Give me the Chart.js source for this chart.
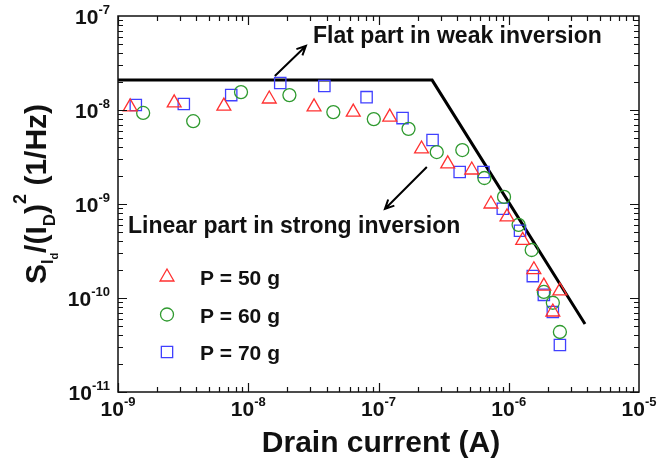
<!DOCTYPE html>
<html>
<head>
<meta charset="utf-8">
<script src="https://cdn.jsdelivr.net/npm/chart.js@4/dist/chart.umd.min.js"></script>
<style>
  html, body { margin: 0; background: #fff; }
</style>
</head>
<body>
<canvas id="noiseChart" width="657" height="461"></canvas>
<script>
// drain current (A) and normalized noise for each pressure
const p50X = [1.24e-9, 2.7e-9, 6.5e-9, 1.45e-8, 3.2e-8, 6.4e-8, 1.22e-7, 2.14e-7, 3.4e-7, 5.2e-7, 7.3e-7, 9.7e-7, 1.28e-6, 1.56e-6, 1.86e-6, 2.18e-6, 2.47e-6];
const p50Y = [1.08e-8, 1.19e-8, 1.10e-8, 1.31e-8, 1.08e-8, 9.5e-9, 8.4e-9, 3.85e-9, 2.67e-9, 2.3e-9, 1.0e-9, 7.3e-10, 4.1e-10, 2.0e-10, 1.34e-10, 7.1e-11, 1.19e-10];

const p60X = [1.56e-9, 3.78e-9, 8.8e-9, 2.07e-8, 4.5e-8, 9.2e-8, 1.70e-7, 2.8e-7, 4.4e-7, 6.5e-7, 9.2e-7, 1.19e-6, 1.50e-6, 1.86e-6, 2.18e-6, 2.47e-6];
const p60Y = [9.3e-9, 7.6e-9, 1.55e-8, 1.44e-8, 9.5e-9, 8.0e-9, 6.3e-9, 3.57e-9, 3.75e-9, 1.89e-9, 1.19e-9, 6.0e-10, 3.24e-10, 1.16e-10, 8.9e-11, 4.35e-11];

const p70X = [1.37e-9, 3.2e-9, 7.4e-9, 1.76e-8, 3.84e-8, 8.1e-8, 1.53e-7, 2.6e-7, 4.2e-7, 6.4e-7, 9.0e-7, 1.22e-6, 1.53e-6, 1.86e-6, 2.18e-6, 2.47e-6];
const p70Y = [1.13e-8, 1.16e-8, 1.44e-8, 1.94e-8, 1.80e-8, 1.37e-8, 8.2e-9, 4.8e-9, 2.19e-9, 2.19e-9, 8.9e-10, 5.2e-10, 1.71e-10, 1.08e-10, 7.1e-11, 3.16e-11];

// guide line: flat part then slope
const fitX = [1e-9, 2.58e-7, 3.85e-6];
const fitY = [2.08e-8, 2.08e-8, 5.29e-11];

const seriesLabels = ["P = 50 g", "P = 60 g", "P = 70 g"];
const xTickExps = [-9, -8, -7, -6, -5];
const yTickExps = [-11, -10, -9, -8, -7];

const FONT = '"Liberation Sans", Arial, sans-serif';
const red = "#ff3030", green = "#2f9a2f", blue = "#4040ff";

const toPts = (xs, ys) => xs.map((v, i) => ({x: v, y: ys[i]}));

// arrows are anchored in data space
const arrows = [
    {from: [1.6e-8, 2.3e-8], to: [2.77e-8, 4.8e-8]},
    {from: [2.35e-7, 2.48e-9], to: [1.12e-7, 8.85e-10]}
];

function drawPow(ctx, exp, x, y, align, size, expSize, rise) {
    ctx.font = "bold " + size + "px " + FONT;
    const w1 = ctx.measureText("10").width;
    ctx.font = "bold " + expSize + "px " + FONT;
    const w2 = ctx.measureText(String(exp)).width;
    let start = x;
    if (align === "center") start = x - (w1 + w2) / 2;
    if (align === "right") start = x - w1 - w2;
    ctx.textAlign = "left";
    ctx.textBaseline = "alphabetic";
    ctx.font = "bold " + size + "px " + FONT;
    ctx.fillText("10", start, y);
    ctx.font = "bold " + expSize + "px " + FONT;
    ctx.fillText(String(exp), start + w1, y - rise);
}

function drawArrow(ctx, x1, y1, x2, y2) {
    const ang = Math.atan2(y2 - y1, x2 - x1);
    const h = 10;
    ctx.beginPath();
    ctx.moveTo(x1, y1);
    ctx.lineTo(x2, y2);
    ctx.moveTo(x2 - h * Math.cos(ang - 0.45), y2 - h * Math.sin(ang - 0.45));
    ctx.lineTo(x2, y2);
    ctx.lineTo(x2 - h * Math.cos(ang + 0.45), y2 - h * Math.sin(ang + 0.45));
    ctx.stroke();
}

const framePlugin = {
    id: "frame",
    afterDraw(chart) {
        const {ctx, chartArea: a, scales: {x, y}} = chart;
        ctx.save();
        ctx.strokeStyle = "#111";
        ctx.fillStyle = "#111";
        ctx.lineWidth = 1.5;
        ctx.strokeRect(a.left, a.top, a.right - a.left, a.bottom - a.top);

        // inward ticks on all four sides
        ctx.lineWidth = 1.2;
        ctx.beginPath();
        for (let e = -9; e < -5; e++) {
            for (let k = 1; k < 10; k++) {
                const px = Math.round(x.getPixelForValue(k * Math.pow(10, e))) + 0.5;
                const len = k === 1 ? 9 : 5;
                ctx.moveTo(px, a.bottom); ctx.lineTo(px, a.bottom - len);
                ctx.moveTo(px, a.top); ctx.lineTo(px, a.top + len);
            }
        }
        for (let e = -11; e < -7; e++) {
            for (let k = 1; k < 10; k++) {
                const py = Math.round(y.getPixelForValue(k * Math.pow(10, e))) + 0.5;
                const len = k === 1 ? 9 : 5;
                ctx.moveTo(a.left, py); ctx.lineTo(a.left + len, py);
                ctx.moveTo(a.right, py); ctx.lineTo(a.right - len, py);
            }
        }
        ctx.stroke();

        // tick labels
        xTickExps.forEach(e => {
            drawPow(ctx, e, x.getPixelForValue(Math.pow(10, e)), 416, "center", 21, 13, 10);
        });
        yTickExps.forEach(e => {
            drawPow(ctx, e, 110, y.getPixelForValue(Math.pow(10, e)) + 8, "right", 21, 13, 10);
        });

        // x title
        ctx.font = "bold 30px " + FONT;
        ctx.textAlign = "center";
        ctx.fillText("Drain current (A)", 381, 452);

        // y title, rotated, with sub/superscripts
        const parts = [
            {t: "S", s: 30, dy: 0},
            {t: "I", s: 16, dy: 7},
            {t: "d", s: 11, dy: 12},
            {t: "/(I", s: 30, dy: 0},
            {t: "D", s: 17, dy: 9},
            {t: ")", s: 30, dy: 0},
            {t: "2", s: 18, dy: -20},
            {t: " (1/Hz)", s: 30, dy: 0}
        ];
        let total = 0;
        parts.forEach(p => { ctx.font = "bold " + p.s + "px " + FONT; p.w = ctx.measureText(p.t).width; total += p.w; });
        ctx.save();
        ctx.translate(46, 194);
        ctx.rotate(-Math.PI / 2);
        ctx.textAlign = "left";
        let cx = -total / 2;
        parts.forEach(p => {
            ctx.font = "bold " + p.s + "px " + FONT;
            ctx.fillText(p.t, cx, p.dy);
            cx += p.w;
        });
        ctx.restore();

        // annotations
        ctx.font = "bold 23px " + FONT;
        ctx.textAlign = "left";
        ctx.fillText("Flat part in weak inversion", 313, 43);
        ctx.fillText("Linear part in strong inversion", 128, 233);
        ctx.lineWidth = 2;
        ctx.strokeStyle = "#000";
        arrows.forEach(ar => {
            drawArrow(ctx,
                x.getPixelForValue(ar.from[0]), y.getPixelForValue(ar.from[1]),
                x.getPixelForValue(ar.to[0]), y.getPixelForValue(ar.to[1]));
        });

        // legend
        const ds = chart.data.datasets;
        [0, 1, 2].forEach((i, n) => {
            const d = ds[i];
            const ly = 277 + n * 37.5;
            ctx.strokeStyle = d.borderColor;
            ctx.fillStyle = "rgba(0,0,0,0)";
            ctx.lineWidth = d.borderWidth;
            Chart.helpers.drawPoint(ctx, {pointStyle: d.pointStyle, radius: d.pointRadius, rotation: 0, borderWidth: d.borderWidth}, 167, ly);
            ctx.fillStyle = "#111";
            ctx.font = "bold 21px " + FONT;
            ctx.fillText(d.label, 200, ly + 8);
        });
        ctx.restore();
    }
};

new Chart(document.getElementById("noiseChart").getContext("2d"), {
    type: "scatter",
    data: {
        datasets: [{
            label: seriesLabels[0],
            data: toPts(p50X, p50Y),
            pointStyle: "triangle",
            pointRadius: 8,
            borderColor: red,
            backgroundColor: "rgba(0,0,0,0)",
            borderWidth: 1.3
        }, {
            label: seriesLabels[1],
            data: toPts(p60X, p60Y),
            pointStyle: "circle",
            pointRadius: 6.5,
            borderColor: green,
            backgroundColor: "rgba(0,0,0,0)",
            borderWidth: 1.3
        }, {
            label: seriesLabels[2],
            data: toPts(p70X, p70Y),
            pointStyle: "rect",
            pointRadius: 8,
            borderColor: blue,
            backgroundColor: "rgba(0,0,0,0)",
            borderWidth: 1.3
        }, {
            label: "guide",
            data: toPts(fitX, fitY),
            showLine: true,
            borderColor: "#000",
            borderWidth: 3,
            pointRadius: 0,
            fill: false
        }]
    },
    options: {
        responsive: false,
        animation: false,
        devicePixelRatio: 1,
        layout: {padding: {top: 16, right: 18, left: 0, bottom: 0}},
        plugins: {legend: {display: false}, tooltip: {enabled: false}},
        scales: {
            x: {
                type: "logarithmic", min: 1e-9, max: 1e-5,
                grid: {display: false}, border: {display: false},
                ticks: {display: false},
                afterFit: s => { s.height = 69; }
            },
            y: {
                type: "logarithmic", min: 1e-11, max: 1e-7,
                grid: {display: false}, border: {display: false},
                ticks: {display: false},
                afterFit: s => { s.width = 118; }
            }
        }
    },
    plugins: [framePlugin]
});
</script>
</body>
</html>
